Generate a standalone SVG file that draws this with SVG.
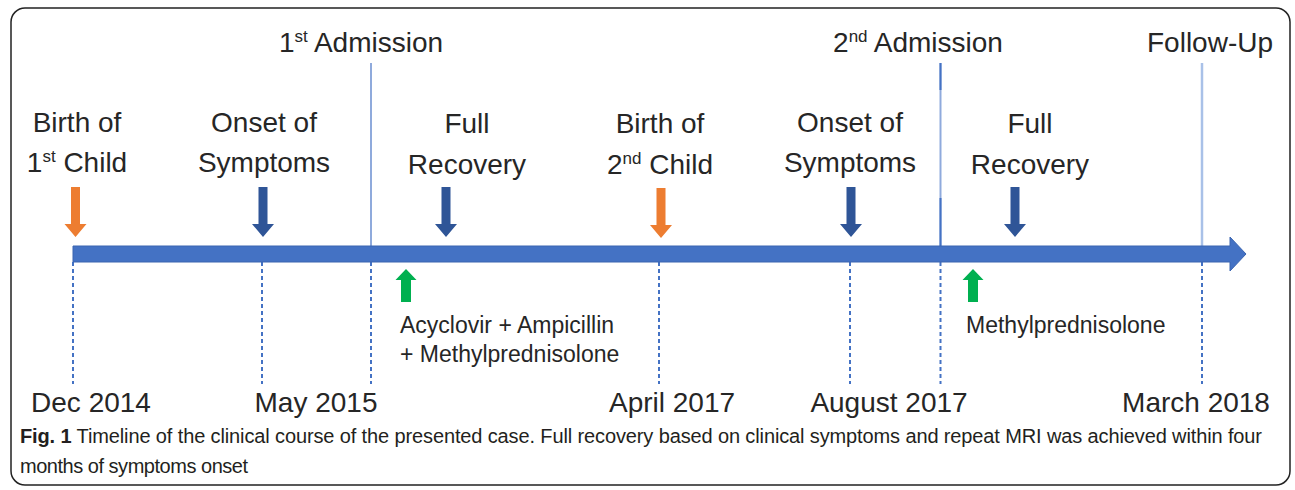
<svg xmlns="http://www.w3.org/2000/svg" width="1295" height="490" viewBox="0 0 1295 490">
  <style>
    .lbl { font-family: "Liberation Sans", Arial, sans-serif; font-size: 28px; fill: #262626; text-anchor: middle; }
    .sup { font-size: 17px; }
    .trt { font-family: "Liberation Sans", Arial, sans-serif; font-size: 23px; fill: #262626; }
    .cap { font-family: "Liberation Sans", Arial, sans-serif; font-size: 20px; fill: #231F20; }
    .dash { stroke: #4472C4; stroke-width: 2; stroke-dasharray: 4 3; fill: none; }
    .adm { stroke: #8FAADC; stroke-width: 2; fill: none; }
    .down-blue { fill: #2F5597; }
    .down-orange { fill: #ED7D31; }
    .up-green { fill: #00B050; }
  </style>
  <defs>
    <path id="downArrow" d="M -4.5 0 H 4.5 V 37 H 11 L 0 50 L -11 37 H -4.5 Z"/>
    <path id="upArrow" d="M 0 0 L 10.5 11 H 5 V 33 H -5 V 11 H -10.5 Z"/>
  </defs>

  <rect x="11" y="8" width="1279" height="477" rx="14" ry="14" fill="#FFFFFF" stroke="#222222" stroke-width="1.5"/>

  <g id="connectors">
    <line class="adm" x1="371" y1="63" x2="371" y2="246"/>
    <line class="adm" x1="940.5" y1="63" x2="940.5" y2="246"/>
    <line x1="940.5" y1="63" x2="940.5" y2="90" stroke="#4472C4" stroke-width="2"/>
    <line x1="940.5" y1="198" x2="940.5" y2="246" stroke="#4472C4" stroke-width="2"/>
    <line x1="1202" y1="63" x2="1202" y2="246" stroke="#A9C1E8" stroke-width="2.5"/>
    <line class="dash" x1="73" y1="262" x2="73" y2="384"/>
    <line class="dash" x1="262" y1="262" x2="262" y2="384"/>
    <line class="dash" x1="371" y1="262" x2="371" y2="384"/>
    <line class="dash" x1="659" y1="262" x2="659" y2="384"/>
    <line class="dash" x1="850" y1="262" x2="850" y2="384"/>
    <line class="dash" x1="940.5" y1="262" x2="940.5" y2="384"/>
    <line class="dash" x1="1202" y1="262" x2="1202" y2="384"/>
    <path d="M 73 246 H 1230 V 237 L 1246 254 L 1230 271 V 262 H 73 Z" fill="#4472C4" stroke="#3A64B0" stroke-width="1"/>
  </g>

  <g id="admission1">
    <text class="lbl" x="361" y="52">1<tspan class="sup" dy="-10">st</tspan><tspan dy="10"> Admission</tspan></text>
  </g>
  <g id="admission2">
    <text class="lbl" x="918" y="52">2<tspan class="sup" dy="-10">nd</tspan><tspan dy="10"> Admission</tspan></text>
  </g>
  <g id="followup">
    <text class="lbl" x="1210" y="52">Follow-Up</text>
  </g>

  <g id="birth1">
    <text class="lbl" x="77" y="132">Birth of</text>
    <text class="lbl" x="77" y="172">1<tspan class="sup" dy="-10">st</tspan><tspan dy="10"> Child</tspan></text>
    <use href="#downArrow" class="down-orange" x="75.5" y="187"/>
  </g>
  <g id="onset1">
    <text class="lbl" x="264" y="132">Onset of</text>
    <text class="lbl" x="264" y="172">Symptoms</text>
    <use href="#downArrow" class="down-blue" x="263" y="187"/>
  </g>
  <g id="recovery1">
    <text class="lbl" x="467" y="133">Full</text>
    <text class="lbl" x="467" y="174">Recovery</text>
    <use href="#downArrow" class="down-blue" x="446" y="187"/>
  </g>
  <g id="birth2">
    <text class="lbl" x="660" y="133">Birth of</text>
    <text class="lbl" x="660" y="174">2<tspan class="sup" dy="-10">nd</tspan><tspan dy="10"> Child</tspan></text>
    <use href="#downArrow" class="down-orange" x="661" y="188"/>
  </g>
  <g id="onset2">
    <text class="lbl" x="850" y="132">Onset of</text>
    <text class="lbl" x="850" y="172">Symptoms</text>
    <use href="#downArrow" class="down-blue" x="851" y="187"/>
  </g>
  <g id="recovery2">
    <text class="lbl" x="1030" y="133">Full</text>
    <text class="lbl" x="1030" y="174">Recovery</text>
    <use href="#downArrow" class="down-blue" x="1015" y="187"/>
  </g>

  <g id="treatment1">
    <use href="#upArrow" class="up-green" x="406" y="269"/>
    <text class="trt" x="400" y="333">Acyclovir + Ampicillin</text>
    <text class="trt" x="400" y="362">+ Methylprednisolone</text>
  </g>
  <g id="treatment2">
    <use href="#upArrow" class="up-green" x="973" y="269"/>
    <text class="trt" x="966" y="333">Methylprednisolone</text>
  </g>

  <g id="dates">
    <text class="lbl" x="91" y="412">Dec 2014</text>
    <text class="lbl" x="316" y="412">May 2015</text>
    <text class="lbl" x="672" y="412">April 2017</text>
    <text class="lbl" x="889" y="412">August 2017</text>
    <text class="lbl" x="1196" y="412">March 2018</text>
  </g>

  <g id="caption">
    <text class="cap" x="20" y="443" textLength="1242"><tspan font-weight="bold">Fig. 1</tspan> Timeline of the clinical course of the presented case. Full recovery based on clinical symptoms and repeat MRI was achieved within four</text>
    <text class="cap" x="20" y="473" textLength="228">months of symptoms onset</text>
  </g>
</svg>
